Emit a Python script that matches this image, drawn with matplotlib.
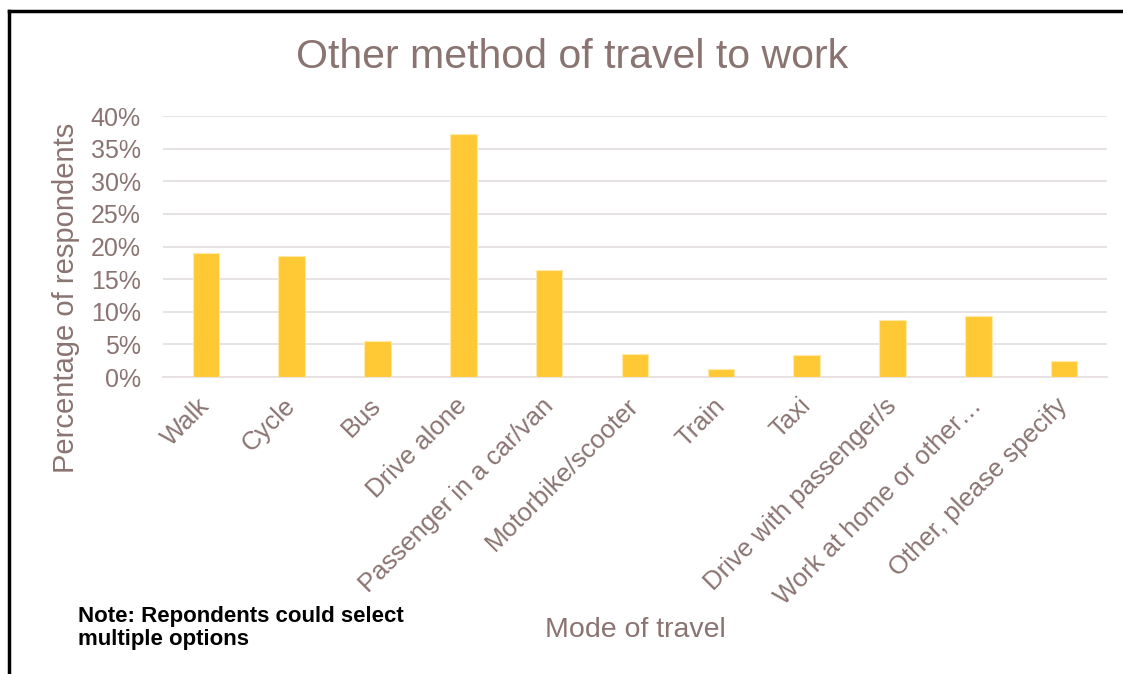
import matplotlib
matplotlib.use('Agg')
import matplotlib.pyplot as plt
from matplotlib.lines import Line2D
from matplotlib.ticker import PercentFormatter

categories = ['Walk', 'Cycle', 'Bus', 'Drive alone', 'Passenger in a car/van',
              'Motorbike/scooter', 'Train', 'Taxi', 'Drive with passenger/s',
              'Work at home or other…', 'Other, please specify']
values = [19.0, 18.5, 5.5, 37.2, 16.4, 3.5, 1.2, 3.3, 8.7, 9.3, 2.4]
yticks = [0, 5, 10, 15, 20, 25, 30, 35, 40]

txt = '#8a7471'
bar_col = '#ffc935'

plt.rcParams['font.family'] = ['Liberation Sans', 'DejaVu Sans']

fig = plt.figure(figsize=(11.23, 6.74), dpi=100)
ax = fig.add_axes([163/1123, 1 - 377/674, (1107-163)/1123, (377-116)/674])

x = range(len(categories))
ax.bar(x, values, width=0.31, color=bar_col, edgecolor='#ffe9a8', linewidth=0.8, zorder=3)

ax.set_xlim(-0.5, len(categories) - 0.5)
ax.set_ylim(0, 40)
ax.set_yticks(yticks)
ax.yaxis.set_major_formatter(PercentFormatter(decimals=0))
ax.grid(axis='y', color='#e6e0e0', linewidth=1.3, zorder=0)
for s in ['top', 'right', 'left']:
    ax.spines[s].set_visible(False)
ax.spines['bottom'].set_color('#e6e0e0')
ax.spines['bottom'].set_linewidth(1.3)
ax.tick_params(axis='both', length=0, colors=txt, labelsize=18)
ax.tick_params(axis='y', pad=16)
ax.tick_params(axis='x', pad=18, labelsize=18.5)
ax.set_xticks(list(x))
ax.set_xticklabels(categories, rotation=45, ha='right', va='center',
                   rotation_mode='anchor')

fig.text(66/1123, 1 - 298/674, 'Percentage of respondents', color=txt,
         fontsize=21, rotation=90, ha='center', va='center')
fig.text(572/1123, 1 - 57/674, 'Other method of travel to work', color=txt,
         fontsize=29.5, ha='center', va='center')
fig.text(635/1123, 1 - 630/674, 'Mode of travel', color=txt, fontsize=20.5,
         ha='center', va='center')
fig.text(78/1123, 1 - 628/674, 'Note: Repondents could select\nmultiple options',
         color='black', fontsize=16, fontweight='bold', ha='left', va='center',
         linespacing=1.15)

# frame lines at top and left of the screenshot
fig.add_artist(Line2D([9/1123, 1], [1 - 11/674, 1 - 11/674], color='black', lw=2.5))
fig.add_artist(Line2D([9/1123, 9/1123], [0, 1 - 11/674], color='black', lw=2.5))

fig.savefig('out.png', dpi=100)
